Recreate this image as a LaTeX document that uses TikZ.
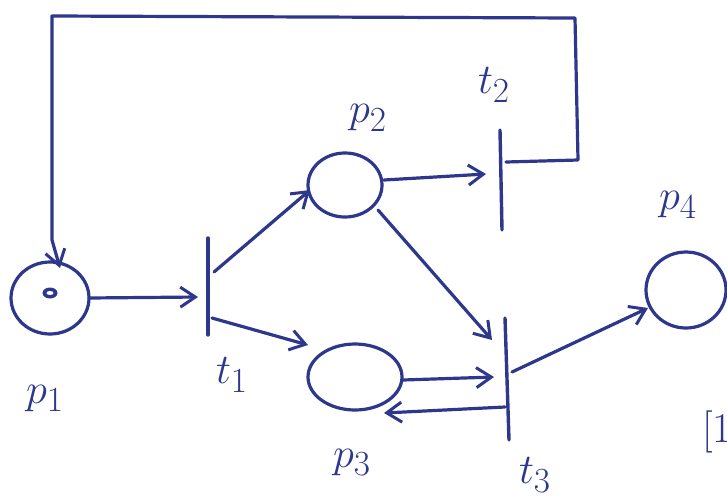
\documentclass[tikz,border=0pt]{standalone}
\usetikzlibrary{arrows.meta}
\definecolor{ink}{RGB}{45,55,140}
\begin{document}
\begin{tikzpicture}[x=1pt,y=-1pt,
  line width=3.2pt, draw=ink, line cap=round, line join=round,
  bar/.style={draw=ink, line width=3.4pt},
  arc/.style={draw=ink, -{Straight Barb[length=15pt,width=20pt,line width=3pt]}},
  lbl/.style={text=ink, font=\Huge, scale=1.7, transform shape}
]
\useasboundingbox (0,0) rectangle (727,501);
% places
\draw[ink] (50,298) ellipse [x radius=39, y radius=36];
\fill[ink] (50,293) ellipse [x radius=7.5, y radius=5.5];
\fill[white] (50,293) ellipse [x radius=3.5, y radius=2];
\draw[ink] (345,185) ellipse [x radius=37, y radius=32];
\draw[ink] (355,377) ellipse [x radius=47, y radius=33];
\draw[ink] (686,290) ellipse [x radius=40, y radius=38];
% transitions
\coordinate (t1top) at (208,238); \coordinate (t1bot) at (208,335);
\coordinate (t2top) at (500,130); \coordinate (t2bot) at (502,230);
\coordinate (t3top) at (505,318); \coordinate (t3bot) at (509,440);
\draw[bar] (t1top) -- (t1bot);
\draw[bar] (t2top) -- (t2bot);
\draw[bar] (t3top) -- (t3bot);
% arc endpoints
\coordinate (a1) at (89,298); \coordinate (a1e) at (198,297);
\coordinate (a2) at (214,272); \coordinate (a2e) at (310,190);
\coordinate (a3) at (212,318); \coordinate (a3e) at (308,345);
\coordinate (a4) at (384,180); \coordinate (a4e) at (486,174);
\coordinate (a5) at (378,210); \coordinate (a5e) at (492,340);
\coordinate (a6) at (403,380); \coordinate (a6e) at (494,377);
\coordinate (a7) at (505,407); \coordinate (a7e) at (384,413);
\coordinate (a8) at (512,372); \coordinate (a8e) at (648,308);
\coordinate (l0) at (506,162); \coordinate (l1) at (578,160);
\coordinate (l2) at (575,18); \coordinate (l3) at (52,16);
\coordinate (l4) at (60,268);
% arcs
\draw[arc] (a1) -- (a1e);
\draw[arc] (a2) -- (a2e);
\draw[arc] (a3) -- (a3e);
\draw[arc] (a4) -- (a4e);
\draw[arc] (a5) -- (a5e);
\draw[arc] (a6) -- (a6e);
\draw[arc] (a7) -- (a7e);
\draw[arc] (a8) -- (a8e);
\draw[arc] (l0) -- (l1) -- (l2) -- (l3) -- (52,240) -- (l4);
% labels
\node[lbl] (lp1) at (45,398) {$p_1$};
\node[lbl] (lt1) at (232,375) {$t_1$};
\node[lbl] (lp2) at (368,118) {$p_2$};
\node[lbl] (lt2) at (494,85) {$t_2$};
\node[lbl] (lp3) at (352,462) {$p_3$};
\node[lbl] (lt3) at (535,475) {$t_3$};
\node[lbl] (lp4) at (678,205) {$p_4$};
\node[lbl, anchor=west] (ref) at (694,432) {[1};
\end{tikzpicture}
\end{document}
